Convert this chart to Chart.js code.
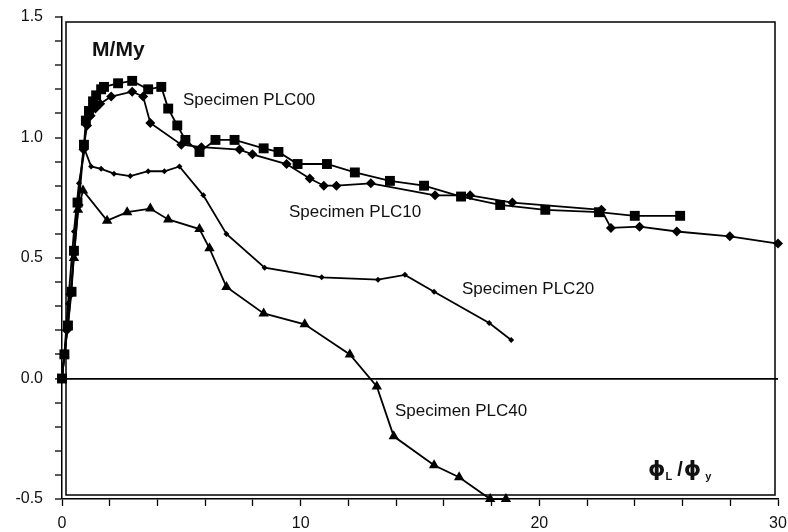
<!DOCTYPE html>
<html>
<head>
<meta charset="utf-8">
<script src="https://cdn.jsdelivr.net/npm/chart.js@4"></script>
<style>
  html, body { margin: 0; padding: 0; background: #fff; }
  #wrap { width: 788px; height: 532px; }
</style>
</head>
<body>
<div id="wrap"><canvas id="chart" width="788" height="532"></canvas></div>
<script>
// valeurs (phi_L / phi_y , M / My)
const plc00X = [0, 0.1, 0.25, 0.4, 0.5, 0.65, 0.92, 1.0, 1.13, 1.3, 1.43, 1.64, 1.76, 2.35, 2.94, 3.61, 4.16, 4.45, 4.83, 5.17, 5.76, 6.43, 7.23, 8.45, 9.07, 9.87, 11.1, 12.27, 13.74, 15.17, 16.72, 18.36, 20.25, 22.5, 24.0, 25.9];
const plc00Y = [0, 0.10, 0.22, 0.36, 0.53, 0.73, 0.97, 1.07, 1.11, 1.15, 1.175, 1.20, 1.21, 1.225, 1.235, 1.20, 1.21, 1.12, 1.05, 0.99, 0.94, 0.99, 0.99, 0.955, 0.94, 0.89, 0.89, 0.855, 0.82, 0.80, 0.755, 0.72, 0.70, 0.69, 0.675, 0.675];

const plc10X = [0, 0.1, 0.2, 0.35, 0.5, 0.7, 0.9, 1.05, 1.2, 1.4, 1.6, 2.06, 2.94, 3.4, 3.7, 5.0, 5.84, 7.44, 7.98, 9.41, 10.38, 10.97, 11.5, 12.94, 15.63, 17.1, 18.87, 22.6, 23.0, 24.2, 25.76, 27.98, 30.0];
const plc10Y = [0, 0.1, 0.2, 0.35, 0.52, 0.72, 0.95, 1.05, 1.09, 1.12, 1.14, 1.17, 1.19, 1.17, 1.06, 0.97, 0.96, 0.95, 0.93, 0.89, 0.83, 0.80, 0.80, 0.81, 0.76, 0.76, 0.73, 0.70, 0.625, 0.63, 0.61, 0.59, 0.56];

const plc20X = [0, 0.1, 0.25, 0.5, 0.71, 0.95, 1.22, 1.64, 2.18, 2.86, 3.61, 4.29, 4.92, 5.92, 6.89, 8.49, 10.88, 13.24, 14.37, 15.59, 17.9, 18.82];
const plc20Y = [0, 0.1, 0.31, 0.61, 0.81, 0.95, 0.88, 0.87, 0.85, 0.84, 0.86, 0.86, 0.88, 0.76, 0.60, 0.46, 0.42, 0.41, 0.43, 0.36, 0.23, 0.16];

const plc40X = [0, 0.1, 0.25, 0.5, 0.67, 0.88, 1.89, 2.73, 3.7, 4.45, 5.76, 6.18, 6.89, 8.45, 10.17, 12.06, 13.19, 13.9, 15.59, 16.64, 17.94, 18.6];
const plc40Y = [0, 0.1, 0.22, 0.5, 0.70, 0.78, 0.655, 0.69, 0.705, 0.66, 0.62, 0.54, 0.38, 0.27, 0.225, 0.10, -0.033, -0.24, -0.36, -0.41, -0.50, -0.50];

const xTickLabels = [0, 10, 20, 30];
const yTickLabels = [-0.5, 0.0, 0.5, 1.0, 1.5];

const seriesNames = ['Specimen PLC00', 'Specimen PLC10', 'Specimen PLC20', 'Specimen PLC40'];

function pairs(xs, ys) {
    return xs.map((x, i) => ({ x: x, y: ys[i] }));
}

function serie(label, xs, ys, style, radius) {
    return {
        label: label,
        data: pairs(xs, ys),
        showLine: true,
        borderColor: '#000',
        borderWidth: 1.8,
        backgroundColor: '#000',
        pointStyle: style,
        pointRadius: radius,
        pointBorderWidth: 0,
        clip: false
    };
}

// textes posés sur la figure, en coordonnées des axes
const notes = [
    { text: seriesNames[0], x: 5.07, y: 1.154 },
    { text: seriesNames[1], x: 9.51, y: 0.69 },
    { text: seriesNames[2], x: 16.76, y: 0.37 },
    { text: seriesNames[3], x: 13.95, y: -0.1375 }
];

const decor = {
    id: 'decor',
    afterDatasetsDraw(chart) {
        const { ctx, chartArea: a, scales } = chart;
        ctx.save();
        // cadre intérieur
        ctx.strokeStyle = '#000';
        ctx.lineWidth = 1.5;
        ctx.strokeRect(a.left + 4, a.top + 5, a.right - a.left - 7, a.bottom - a.top - 9);

        ctx.fillStyle = '#111';
        ctx.textBaseline = 'middle';
        ctx.textAlign = 'left';
        ctx.font = '17px "Liberation Sans", Arial, sans-serif';
        notes.forEach(n => {
            ctx.fillText(n.text, scales.x.getPixelForValue(n.x), scales.y.getPixelForValue(n.y));
        });

        // M/My
        ctx.textBaseline = 'alphabetic';
        ctx.font = 'bold 21px "Liberation Sans", Arial, sans-serif';
        ctx.fillText('M/My', scales.x.getPixelForValue(1.26), scales.y.getPixelForValue(1.34));

        // phi_L / phi_y
        let px = scales.x.getPixelForValue(24.55);
        const py = scales.y.getPixelForValue(-0.405);
        const big = 'bold 22px "DejaVu Sans", sans-serif';
        const small = 'bold 11px "Liberation Sans", Arial, sans-serif';
        ctx.font = big;
        ctx.fillText('ϕ', px, py);
        px += ctx.measureText('ϕ').width;
        ctx.font = small;
        ctx.fillText('L', px, py + 4);
        px += ctx.measureText('L').width + 5;
        ctx.font = 'bold 20px "Liberation Sans", Arial, sans-serif';
        ctx.fillText('/', px, py);
        px += ctx.measureText('/').width + 1;
        ctx.font = big;
        ctx.fillText('ϕ', px, py);
        px += ctx.measureText('ϕ').width + 4;
        ctx.font = small;
        ctx.fillText('y', px, py + 4);
        ctx.restore();
    }
};

function isLabel(v, list) {
    return list.some(t => Math.abs(t - v) < 1e-6);
}

new Chart(document.getElementById('chart'), {
    type: 'scatter',
    data: {
        datasets: [
            serie(seriesNames[0], plc00X, plc00Y, 'rect', 7),
            serie(seriesNames[1], plc10X, plc10Y, 'rectRot', 5),
            serie(seriesNames[2], plc20X, plc20Y, 'rectRot', 3),
            serie(seriesNames[3], plc40X, plc40Y, 'triangle', 6)
        ]
    },
    options: {
        responsive: false,
        animation: false,
        layout: { padding: { top: 17, right: 10, left: 0, bottom: 0 } },
        plugins: {
            legend: { display: false },
            tooltip: { enabled: false }
        },
        scales: {
            x: {
                type: 'linear',
                min: 0,
                max: 30,
                afterFit(s) { s.height = 33; s.paddingLeft = 0; s.paddingRight = 0; },
                border: { display: true, color: '#000', width: 1.5 },
                grid: { drawOnChartArea: false, color: '#000', tickLength: 7, tickWidth: 1.3 },
                ticks: {
                    stepSize: 2,
                    autoSkip: false,
                    maxRotation: 0,
                    padding: 8,
                    color: '#111',
                    font: { family: '"Liberation Sans", Arial, sans-serif', size: 16 },
                    callback: v => isLabel(v, xTickLabels) ? String(v) : ''
                }
            },
            y: {
                type: 'linear',
                min: -0.5,
                max: 1.5,
                afterFit(s) { s.width = 62; s.paddingTop = 0; s.paddingBottom = 0; },
                border: { display: true, color: '#000', width: 1.5 },
                grid: {
                    drawOnChartArea: true,
                    color: c => (c.tick && Math.abs(c.tick.value) < 1e-6) ? '#000' : 'rgba(0,0,0,0)',
                    lineWidth: c => (c.tick && Math.abs(c.tick.value) < 1e-6) ? 1.8 : 0,
                    tickColor: '#000',
                    tickWidth: 1.3,
                    tickLength: 7
                },
                ticks: {
                    stepSize: 0.1,
                    autoSkip: false,
                    padding: 12,
                    color: '#111',
                    font: { family: '"Liberation Sans", Arial, sans-serif', size: 16 },
                    callback: v => isLabel(v, yTickLabels) ? v.toFixed(1) : ''
                }
            }
        }
    },
    plugins: [decor]
});
</script>
</body>
</html>
